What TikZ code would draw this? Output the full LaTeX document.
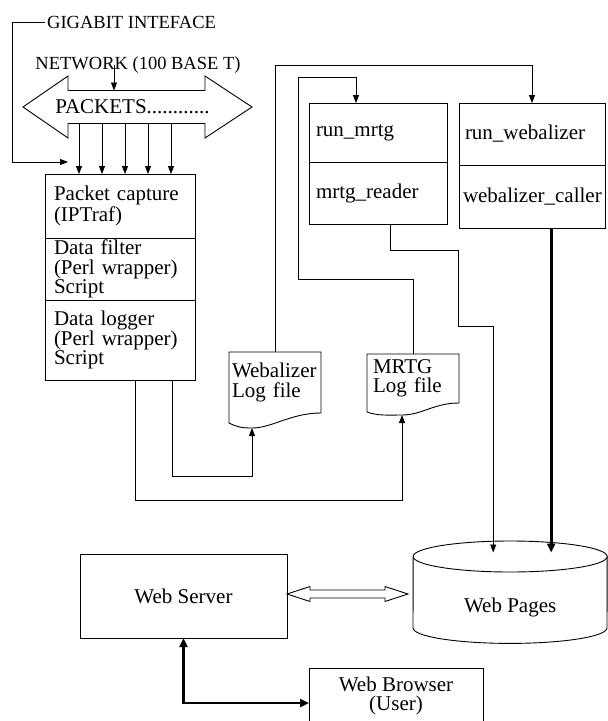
\documentclass[tikz,border=0pt]{standalone}
\usepackage{fontspec}
\setmainfont{Liberation Serif}
\usetikzlibrary{positioning, calc, arrows.meta}

\begin{document}
\lineskiplimit=-20pt
\begin{tikzpicture}[
		x=1pt, y=-1pt,
		every node/.style={font=\fontsize{21}{19.5}\selectfont},
		block/.style={rectangle, draw, line width=0.9pt, inner xsep=9pt, inner ysep=0pt, outer sep=0pt, align=left, anchor=north west},
		logbox/.style={rectangle, inner xsep=3pt, inner ysep=0pt, outer sep=0pt, align=left, anchor=north west, minimum width=92pt, text width=86pt},
		heading/.style={inner sep=2pt, font=\fontsize{18.5}{18}\selectfont},
		line/.style={line width=0.9pt},
		arr/.style={line, -{Triangle[length=8pt,width=6pt]}},
		heavyarr/.style={line width=2.6pt, -{Triangle[length=9pt,width=8pt]}},
		heavyboth/.style={line width=2.6pt, {Triangle[length=9pt,width=8pt]}-{Triangle[length=9pt,width=8pt]}},
		hollow/.style={line width=0.9pt, fill=white}
	]
	\useasboundingbox (0,0) rectangle (608,721);

	% capture chain
	\node[block, text width=132pt, minimum height=64pt, font=\fontsize{21}{21}\selectfont] (capture) at (45,174) {Packet capture\\(IPTraf)};
	\node[block, text width=132pt, minimum height=62pt, below=0pt of capture] (filter) {Data filter\\(Perl wrapper)\\Script};
	\node[block, text width=132pt, minimum height=80pt, below=0pt of filter] (logger) {Data logger\\(Perl wrapper)\\Script};

	% readers
	\node[block, inner xsep=7pt, text width=124pt, minimum height=59pt] (runmrtg) at (309,103) {run\_mrtg};
	\node[block, inner xsep=7pt, text width=124pt, minimum height=62pt, below=0pt of runmrtg] (mreader) {mrtg\_reader};
	\node[block, inner xsep=6pt, text width=134pt, minimum height=62pt] (runweb) at (459,103) {run\_webalizer};
	\node[block, inner xsep=4pt, text width=138pt, minimum height=63pt, below=0pt of runweb] (wcaller) {webalizer\_caller};

	% log files
	\node[logbox, minimum height=61pt] (wlog) at (229,352) {Webalizer\\Log file};
	\node[logbox, minimum height=49pt, inner xsep=6pt, text width=80pt] (mlog) at (367,354) {MRTG\\Log file};

	% web side
	\node[block, align=center, inner xsep=0pt, minimum width=207pt, minimum height=84pt] (server) at (80,554) {Web Server};
	\node[block, align=center, inner xsep=0pt, minimum width=174pt, minimum height=56pt] (browser) at (309,668) {Web Browser\\(User)};
	\node[minimum width=194pt, minimum height=71pt, inner sep=0pt, anchor=north west] (pages) at (413,572) {Web Pages};

	% network input
	\node[heading, anchor=west] (giga) at (45,22) {GIGABIT INTEFACE};
	\node[heading] (net) at (138,65) {NETWORK (100 BASE T)};
	\node (pkts) at (132.5,107) {PACKETS............};

	\coordinate (gigain) at (68,162);
	\coordinate (netin) at ($(pkts.center)+(-18.5,-16.5)$);
	\coordinate (wlogin) at ($(wlog.south west)+(23,15)$);
	\coordinate (mlogin) at ($(mlog.south west)+(35,12)$);
	\coordinate (ptop) at ($(pages.north)+(0,-15.5)$);
	\coordinate (pin1) at ($(ptop)+(-17,-4)$);
	\coordinate (pin2) at ($(ptop)+(41,-4)$);

	\draw[line, shift={(pkts.center)}] (-109.5,0) -- (-64.5,-31) -- (-64.5,-16.5) -- (72.5,-16.5) -- (72.5,-31) -- (119.5,0)
		-- (72.5,31) -- (72.5,16.5) -- (-64.5,16.5) -- (-64.5,31) -- cycle;

	\draw[arr] (giga.west) -- ++(-33,0) |- (gigain);
	\draw[arr] (netin |- net.center) -- (netin);

	\foreach \dx in {-53.5,-30.5,-7.5,15.5,38.5} {
		\path (pkts.center) ++(\dx,16.5) coordinate (p);
		\draw[arr] (p) -- (p |- capture.north);
	}

	% log file outlines
	\draw[line] (wlog.south east) -- (wlog.north east) -- (wlog.north west) -- ($(wlog.south west)+(0,10)$)
		.. controls +(8,4) and +(-10,0) .. (wlogin) .. controls +(20,0) and +(-30,0) .. (wlog.south east);
	\draw[line] (mlog.south east) -- (mlog.north east) -- (mlog.north west) -- ($(mlog.south west)+(0,9)$)
		.. controls +(10,4) and +(-12,0) .. (mlogin) .. controls +(20,0) and +(-25,0) .. (mlog.south east);

	\draw[arr] ($(logger.south east)+(-23,0)$) -- ++(0,96) -| (wlogin);
	\draw[arr] ($(logger.south west)+(90,0)$) -- ++(0,120) -| (mlogin);

	\draw[arr] (wlog.north) -- ++(0,-287) -| (runweb.north);
	\draw[arr] (mlog.north) -- ++(0,-75) -- ++(-115,0) -- ++(0,-202) -| ($(runmrtg.north west)+(47,0)$);

	% web pages store
	\draw[line] (ptop) ellipse [x radius=97pt, y radius=15.5pt];
	\draw[line] ($(ptop)+(-97,0)$) -- ($(pages.south west)+(0,-15.5)$) arc [start angle=180, end angle=360, x radius=97pt, y radius=15.5pt] -- ($(ptop)+(97,0)$);

	\draw[arr] ($(mreader.south)+(12,0)$) -- ++(0,26) -- ++(68,0) -- ++(0,76) -| (pin1);
	\draw[heavyarr] (wcaller.south -| pin2) -- (pin2);

	\draw[hollow] ($(server.east)+(0,-2)$) -- ++(23,-7.5) -- ++(0,3.5) -- ++(75,0) -- ++(0,-3.5) -- ++(23,7.5)
		-- ++(-23,7.5) -- ++(0,-3.5) -- ++(-75,0) -- ++(0,3.5) -- cycle;
	\draw[heavyboth] (server.south) |- ($(browser.west)+(0,7)$);

\end{tikzpicture}
\end{document}
